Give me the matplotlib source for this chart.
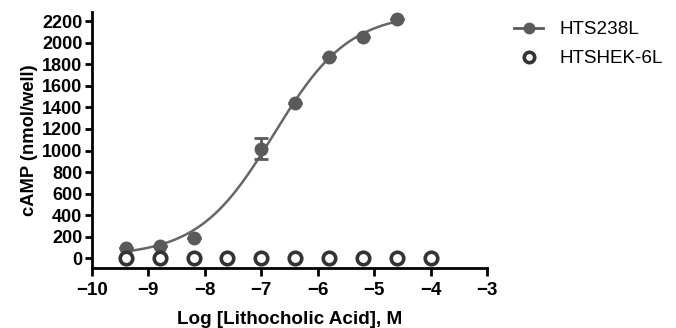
import numpy as np
import matplotlib
matplotlib.use("Agg")
import matplotlib.pyplot as plt

plt.rcParams['font.family'] = ['Liberation Sans', 'DejaVu Sans']

# log molar doses (4-fold dilutions)
log_dose = [-9.4, -8.8, -8.2, -7.6, -7.0, -6.4, -5.8, -5.2, -4.6, -4.0]

# HTS238L measured points (no values at -7.6 and -4.0)
hts238_x = [-9.4, -8.8, -8.2, -7.0, -6.4, -5.8, -5.2, -4.6]
hts238_y = [95, 110, 192, 1015, 1440, 1865, 2050, 2222]
hts238_err = [0, 0, 0, 97, 0, 0, 0, 0]

# HTSHEK-6L measured points
hek_y = [0, 0, 0, 0, 0, 0, 0, 0, 0, 0]

# fitted 4-parameter logistic
fit_bottom = 20
fit_top = 2280
fit_logec50 = -6.78
fit_hill = 0.65

fig = plt.figure(figsize=(6.76, 3.28), dpi=100)
ax = fig.add_axes([92 / 676, 1 - 268 / 328, (487 - 92) / 676, (268 - 12) / 328])

curve_x = np.linspace(hts238_x[0], hts238_x[-1], 200)
curve_y = fit_bottom + (fit_top - fit_bottom) / (1 + 10 ** ((fit_logec50 - curve_x) * fit_hill))

gray = '#5a5a5a'
ax.plot(curve_x, curve_y, color='#666666', lw=1.8, zorder=2)
ax.errorbar(hts238_x, hts238_y, yerr=hts238_err, fmt='o', color=gray, ms=9,
            ecolor=gray, elinewidth=2, capsize=5, capthick=2, zorder=3)
ax.plot(log_dose, hek_y, 'o', ms=9, mfc='white', mec='#333333', mew=2.6,
        ls='none', zorder=4)

ax.set_xlim(-10, -3)
ax.set_ylim(-90, 2285)
ax.set_xticks(range(-10, -2))
ax.set_yticks(range(0, 2201, 200))

for s in ['top', 'right']:
    ax.spines[s].set_visible(False)
for s in ['left', 'bottom']:
    ax.spines[s].set_linewidth(2)
ax.tick_params(axis='x', width=2, length=6, labelsize=13.5, pad=4)
ax.tick_params(axis='y', width=2, length=5, labelsize=13, pad=2)
for lab in ax.get_xticklabels() + ax.get_yticklabels():
    lab.set_fontweight('bold')

ax.set_xlabel('Log [Lithocholic Acid], M', fontsize=13.6, fontweight='bold', labelpad=9)
ax.set_ylabel('cAMP (nmol/well)', fontsize=13.2, fontweight='bold', labelpad=3)

h1, = ax.plot([], [], '-o', color=gray, ms=7.5, lw=2)
h2, = ax.plot([], [], 'o', ms=7.5, mfc='white', mec='#333333', mew=2.6, ls='none')
fig.legend([h1, h2], ['HTS238L', 'HTSHEK-6L'], loc='upper left',
           bbox_to_anchor=(514 / 676, 1 - 21 / 328), frameon=False, borderpad=0,
           borderaxespad=0, fontsize=13.6, handlelength=1.55, labelspacing=0.62,
           handletextpad=0.85)

fig.savefig('out.png', dpi=100)
